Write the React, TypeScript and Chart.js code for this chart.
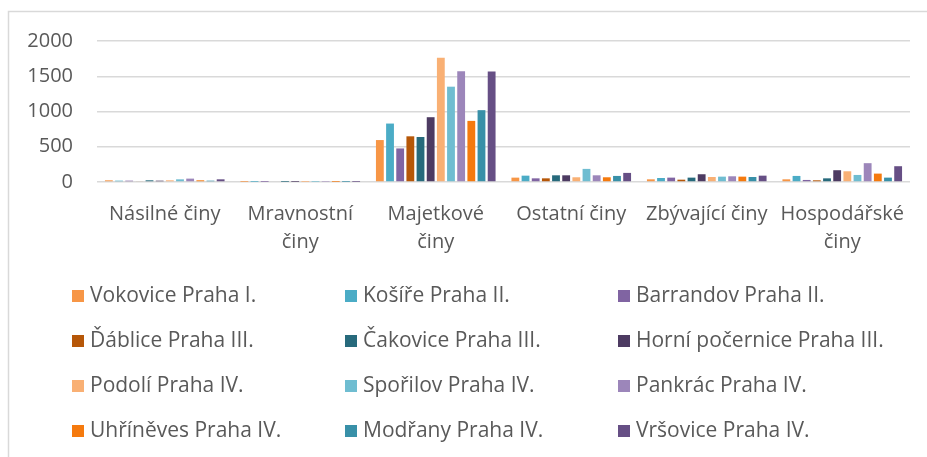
import React, { useEffect, useRef } from "react";
import { Chart, registerables } from "chart.js";

Chart.register(...registerables);

const categories = ["Násilné činy", "Mravnostní činy", "Majetkové činy", "Ostatní činy", "Zbývající činy", "Hospodářské činy"];
const tickLabels: (string | string[])[] = ["Násilné činy", ["Mravnostní", "činy"], ["Majetkové", "činy"], "Ostatní činy", "Zbývající činy", ["Hospodářské", "činy"]];
const yTicks = [0, 500, 1000, 1500, 2000];

const seriesNames = [
  "Vokovice Praha I.",
  "Košíře Praha II.",
  "Barrandov Praha II.",
  "Ďáblice Praha III.",
  "Čakovice Praha III.",
  "Horní počernice Praha III.",
  "Podolí Praha IV.",
  "Spořilov Praha IV.",
  "Pankrác Praha IV.",
  "Uhříněves Praha IV.",
  "Modřany Praha IV.",
  "Vršovice Praha IV.",
];

const vokovice = [24, 1, 595, 62, 38, 38];
const kosire = [19, 1, 829, 90, 57, 86];
const barrandov = [19, 1, 476, 52, 62, 29];
const dablice = [10, 0, 648, 52, 33, 24];
const cakovice = [24, 1, 638, 95, 62, 52];
const horniPocernice = [19, 1, 919, 95, 110, 167];
const podoli = [24, 1, 1762, 67, 71, 152];
const sporilov = [38, 2, 1352, 186, 76, 100];
const pankrac = [48, 4, 1571, 95, 81, 267];
const uhrineves = [24, 1, 867, 67, 76, 119];
const modrany = [19, 1, 1019, 86, 71, 62];
const vrsovice = [38, 1, 1567, 129, 90, 224];

const seriesValues = [vokovice, kosire, barrandov, dablice, cakovice, horniPocernice, podoli, sporilov, pankrac, uhrineves, modrany, vrsovice];

const colors = [
  "#F79646",
  "#4BACC6",
  "#8064A2",
  "#B65708",
  "#276A7C",
  "#4D3B62",
  "#F9B074",
  "#6FBDD1",
  "#9C86BA",
  "#F57A0E",
  "#3890A8",
  "#664F85",
];

const FONT = '"Open Sans", "DejaVu Sans", sans-serif';
const TEXT = "#595959";

const framePlugin = {
  id: "frame",
  beforeDraw(chart: any) {
    const ctx = chart.ctx;
    ctx.save();
    ctx.fillStyle = "#ffffff";
    ctx.fillRect(0, 0, chart.width, chart.height);
    ctx.strokeStyle = "#D9D9D9";
    ctx.lineWidth = 1.5;
    ctx.beginPath();
    ctx.moveTo(8.5, chart.height);
    ctx.lineTo(8.5, 11.5);
    ctx.lineTo(chart.width, 11.5);
    ctx.stroke();
    ctx.restore();
  },
};

const gridLegendPlugin = {
  id: "gridLegend",
  afterDraw(chart: any) {
    const ctx = chart.ctx;
    const area = chart.chartArea;
    const colX = [72, 345, 618];
    const rowY0 = area.bottom + 114;
    const rowGap = 45;
    ctx.save();
    ctx.font = `21px ${FONT}`;
    ctx.textBaseline = "middle";
    ctx.textAlign = "left";
    chart.data.datasets.forEach((ds: any, i: number) => {
      const col = i % 3;
      const row = Math.floor(i / 3);
      const x = colX[col];
      const y = rowY0 + row * rowGap;
      ctx.fillStyle = ds.backgroundColor;
      ctx.fillRect(x, y - 6, 12, 12);
      ctx.fillStyle = TEXT;
      ctx.fillText(ds.label, x + 18, y);
    });
    ctx.restore();
  },
};

export default function App() {
  const ref = useRef<HTMLCanvasElement | null>(null);

  useEffect(() => {
    document.body.style.margin = "0";
    if (!ref.current) return;
    const chart = new Chart(ref.current, {
      type: "bar",
      data: {
        labels: tickLabels as any,
        datasets: seriesNames.map((name, i) => ({
          label: name,
          data: seriesValues[i],
          backgroundColor: colors[i],
          borderWidth: 0,
          categoryPercentage: 0.9,
          barPercentage: 0.77,
        })),
      },
      options: {
        animation: false,
        responsive: false,
        maintainAspectRatio: false,
        layout: { padding: { top: 41, right: 17, left: 0, bottom: 0 } },
        plugins: {
          legend: { display: false },
          tooltip: { enabled: false },
          title: { display: false },
        },
        scales: {
          x: {
            grid: { display: false, drawTicks: false },
            border: { display: false },
            ticks: {
              autoSkip: false,
              maxRotation: 0,
              minRotation: 0,
              padding: 18,
              color: TEXT,
              font: { family: FONT, size: 20, lineHeight: 1.4 },
            },
            afterFit(scale: any) {
              scale.height = 275;
            },
          },
          y: {
            min: 0,
            max: 2000,
            afterBuildTicks(scale: any) {
              scale.ticks = yTicks.map((v) => ({ value: v }));
            },
            grid: { color: "#D9D9D9", lineWidth: 1.5, drawTicks: false },
            border: { display: false },
            ticks: {
              padding: 24,
              color: TEXT,
              font: { family: FONT, size: 20 },
              callback: (v: any) => String(v),
            },
            afterFit(scale: any) {
              scale.width = 97;
            },
          },
        },
      },
      plugins: [framePlugin, gridLegendPlugin],
    });
    return () => chart.destroy();
  }, []);

  return (
    <div style={{ width: 927, height: 457 }}>
      <canvas ref={ref} width={927} height={457} style={{ display: "block", width: 927, height: 457 }} />
    </div>
  );
}
